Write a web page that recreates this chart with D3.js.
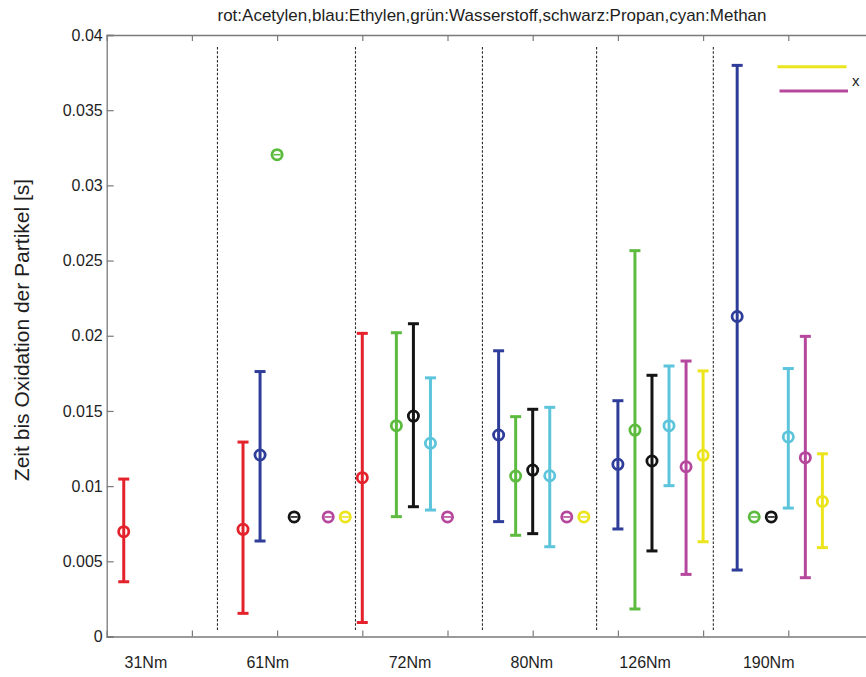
<!DOCTYPE html>
<html>
<head>
<meta charset="utf-8">
<script src="https://cdn.jsdelivr.net/npm/d3@7"></script>
<style>
  html, body { margin: 0; padding: 0; background: #ffffff; }
  svg { display: block; font-family: "Liberation Sans", Arial, Helvetica, sans-serif; }
</style>
</head>
<body>
<svg id="chart" width="866" height="677"></svg>
<script>
// ---------------- DATA ----------------
const titleText = "rot:Acetylen,blau:Ethylen,grün:Wasserstoff,schwarz:Propan,cyan:Methan";
const yLabelText = "Zeit bis Oxidation der Partikel [s]";

const groupLabels = ["31Nm", "61Nm", "72Nm", "80Nm", "126Nm", "190Nm"];
const groupLabelX = [0.46, 1.89, 3.56, 4.99, 6.32, 7.77];
const separatorX = [1.30, 2.92, 4.41, 5.75, 7.12];

const xTicks = [1, 2, 3, 4, 5, 6, 7, 8];
const yTicks = [0, 0.005, 0.01, 0.015, 0.02, 0.025, 0.03, 0.035, 0.04];
const yTickLabels = ["0", "0.005", "0.01", "0.015", "0.02", "0.025", "0.03", "0.035", "0.04"];

// red: Acetylen
const redX    = [0.2, 1.6, 3.0];
const redMean = [0.00697, 0.00713, 0.01056];
const redLow  = [0.00364, 0.00154, 0.00093];
const redHigh = [0.01047, 0.01293, 0.02016];

// blue: Ethylen
const blueX    = [1.8, 4.6, 6.0, 7.4];
const blueMean = [0.01207, 0.01340, 0.01145, 0.02128];
const blueLow  = [0.00635, 0.00764, 0.00715, 0.00442];
const blueHigh = [0.01762, 0.01900, 0.01568, 0.03798];

// green: Wasserstoff
const greenX    = [2.0, 3.4, 4.8, 6.2, 7.6];
const greenMean = [0.03204, 0.01402, 0.01067, 0.01373, 0.00795];
const greenLow  = [0.03204, 0.00797, 0.00673, 0.00183, 0.00795];
const greenHigh = [0.03204, 0.02020, 0.01462, 0.02566, 0.00795];

// black: Propan
const blackX    = [2.2, 3.6, 5.0, 6.4, 7.8];
const blackMean = [0.00795, 0.01466, 0.01107, 0.01167, 0.00795];
const blackLow  = [0.00795, 0.00863, 0.00684, 0.00569, 0.00795];
const blackHigh = [0.00795, 0.02080, 0.01511, 0.01737, 0.00795];

// cyan: Methan
const cyanX    = [3.8, 5.2, 6.6, 8.0];
const cyanMean = [0.01285, 0.01069, 0.01402, 0.01327];
const cyanLow  = [0.00841, 0.00597, 0.01003, 0.00854];
const cyanHigh = [0.01720, 0.01524, 0.01799, 0.01782];

// magenta
const magentaX    = [2.6, 4.0, 5.4, 6.8, 8.2];
const magentaMean = [0.00795, 0.00795, 0.00795, 0.01129, 0.01189];
const magentaLow  = [0.00795, 0.00795, 0.00795, 0.00413, 0.00391];
const magentaHigh = [0.00795, 0.00795, 0.00795, 0.01832, 0.01996];

// yellow
const yellowX    = [2.8, 5.6, 7.0, 8.4];
const yellowMean = [0.00795, 0.00795, 0.01205, 0.00898];
const yellowLow  = [0.00795, 0.00795, 0.00630, 0.00591];
const yellowHigh = [0.00795, 0.00795, 0.01766, 0.01215];

// legend fragment (top right)
const legendColors = ["yellow", "magenta"];
const legendText = "x";

// ---------------- STYLE ----------------
const palette = {
  red: "#e3222b",
  blue: "#2f3d9a",
  green: "#5dbb3f",
  black: "#141414",
  cyan: "#5cc5db",
  magenta: "#b5489d",
  yellow: "#ece41c"
};

const series = [
  { color: palette.red,     x: redX,     m: redMean,     lo: redLow,     hi: redHigh },
  { color: palette.blue,    x: blueX,    m: blueMean,    lo: blueLow,    hi: blueHigh },
  { color: palette.green,   x: greenX,   m: greenMean,   lo: greenLow,   hi: greenHigh },
  { color: palette.black,   x: blackX,   m: blackMean,   lo: blackLow,   hi: blackHigh },
  { color: palette.cyan,    x: cyanX,    m: cyanMean,    lo: cyanLow,    hi: cyanHigh },
  { color: palette.magenta, x: magentaX, m: magentaMean, lo: magentaLow, hi: magentaHigh },
  { color: palette.yellow,  x: yellowX,  m: yellowMean,  lo: yellowLow,  hi: yellowHigh }
];

// ---------------- CHART ----------------
const svg = d3.select("#chart");
svg.append("rect").attr("width", 866).attr("height", 677).attr("fill", "#ffffff");

const plotLeft = 106.7, plotRight = 873.5, plotTop = 35, plotBottom = 636.5;
const x = d3.scaleLinear().domain([0, 9]).range([plotLeft, plotRight]);
const y = d3.scaleLinear().domain([0, 0.04]).range([plotBottom, plotTop]);

const axisColor = "#7a7a7a";
const textColor = "#1e1e1e";

function styleAxis(g) {
  g.select(".domain").attr("stroke", axisColor).attr("stroke-width", 1.3);
  g.selectAll(".tick line").attr("stroke", axisColor).attr("stroke-width", 1.2);
  g.selectAll(".tick text").attr("fill", textColor);
}

// separators (dashed)
svg.append("g").selectAll("line").data(separatorX).join("line")
  .attr("x1", d => x(d)).attr("x2", d => x(d))
  .attr("y1", y(0.0392)).attr("y2", y(0.0004))
  .attr("stroke", "#2a2a2a").attr("stroke-width", 1.1)
  .attr("stroke-dasharray", "2.5,1.8");

// axes
svg.append("g").attr("transform", `translate(0,${plotBottom})`)
  .call(d3.axisBottom(x).tickValues(xTicks).tickSize(-6).tickFormat(""))
  .call(styleAxis);
svg.append("g").attr("transform", `translate(0,${plotTop})`)
  .call(d3.axisTop(x).tickValues(xTicks).tickSize(-6).tickFormat(""))
  .call(styleAxis);
svg.append("g").attr("transform", `translate(${plotLeft},0)`)
  .call(d3.axisLeft(y).tickValues(yTicks).tickSize(-7).tickPadding(4)
        .tickFormat((d, i) => yTickLabels[i]))
  .call(styleAxis)
  .call(g => g.selectAll(".tick text").attr("font-size", 16).attr("font-family", "Liberation Sans, Arial, sans-serif"));
svg.append("g").attr("transform", `translate(${plotRight},0)`)
  .call(d3.axisRight(y).tickValues(yTicks).tickSize(-7).tickFormat(""))
  .call(styleAxis);

// group labels
svg.append("g").selectAll("text").data(groupLabels).join("text")
  .attr("x", (d, i) => x(groupLabelX[i]))
  .attr("y", 668)
  .attr("text-anchor", "middle")
  .attr("font-size", 16)
  .attr("fill", textColor)
  .text(d => d);

// title
svg.append("text")
  .attr("x", 492).attr("y", 21)
  .attr("text-anchor", "middle")
  .attr("font-size", 17)
  .attr("fill", textColor)
  .text(titleText);

// y label
svg.append("text")
  .attr("transform", `translate(29,330) rotate(-90)`)
  .attr("text-anchor", "middle")
  .attr("font-size", 21)
  .attr("fill", textColor)
  .text(yLabelText);

// error bars
const capHalf = 5.5;
const plot = svg.append("g");
series.forEach(s => {
  const pts = s.x.map((xv, i) => ({ x: xv, m: s.m[i], lo: s.lo[i], hi: s.hi[i] }));
  const g = plot.append("g");
  const bars = pts.filter(p => p.hi > p.lo);
  g.selectAll("line.v").data(bars).join("line").attr("class", "v")
    .attr("x1", p => x(p.x)).attr("x2", p => x(p.x))
    .attr("y1", p => y(p.lo)).attr("y2", p => y(p.hi))
    .attr("stroke", s.color).attr("stroke-width", 3);
  g.selectAll("line.cl").data(bars).join("line").attr("class", "cl")
    .attr("x1", p => x(p.x) - capHalf).attr("x2", p => x(p.x) + capHalf)
    .attr("y1", p => y(p.lo)).attr("y2", p => y(p.lo))
    .attr("stroke", s.color).attr("stroke-width", 3);
  g.selectAll("line.ch").data(bars).join("line").attr("class", "ch")
    .attr("x1", p => x(p.x) - capHalf).attr("x2", p => x(p.x) + capHalf)
    .attr("y1", p => y(p.hi)).attr("y2", p => y(p.hi))
    .attr("stroke", s.color).attr("stroke-width", 3);
  const dots = pts.filter(p => !(p.hi > p.lo));
  g.selectAll("line.z").data(dots).join("line").attr("class", "z")
    .attr("x1", p => x(p.x) - 3.5).attr("x2", p => x(p.x) + 3.5)
    .attr("y1", p => y(p.m)).attr("y2", p => y(p.m))
    .attr("stroke", s.color).attr("stroke-width", 1.6);
  g.selectAll("circle").data(pts).join("circle")
    .attr("cx", p => x(p.x)).attr("cy", p => y(p.m))
    .attr("r", 5.1)
    .attr("fill", "none")
    .attr("stroke", s.color).attr("stroke-width", 2.8);
});

// legend fragment
const legY = [66.7, 91];
const legX1 = [777.5, 779.5];
const legX2 = [846.5, 848];
svg.append("g").selectAll("line").data(legendColors).join("line")
  .attr("x1", (d, i) => legX1[i]).attr("x2", (d, i) => legX2[i])
  .attr("y1", (d, i) => legY[i]).attr("y2", (d, i) => legY[i])
  .attr("stroke", d => palette[d]).attr("stroke-width", 3);
svg.append("text").attr("x", 852).attr("y", 86)
  .attr("font-size", 15).attr("fill", textColor).text(legendText);
</script>
</body>
</html>
